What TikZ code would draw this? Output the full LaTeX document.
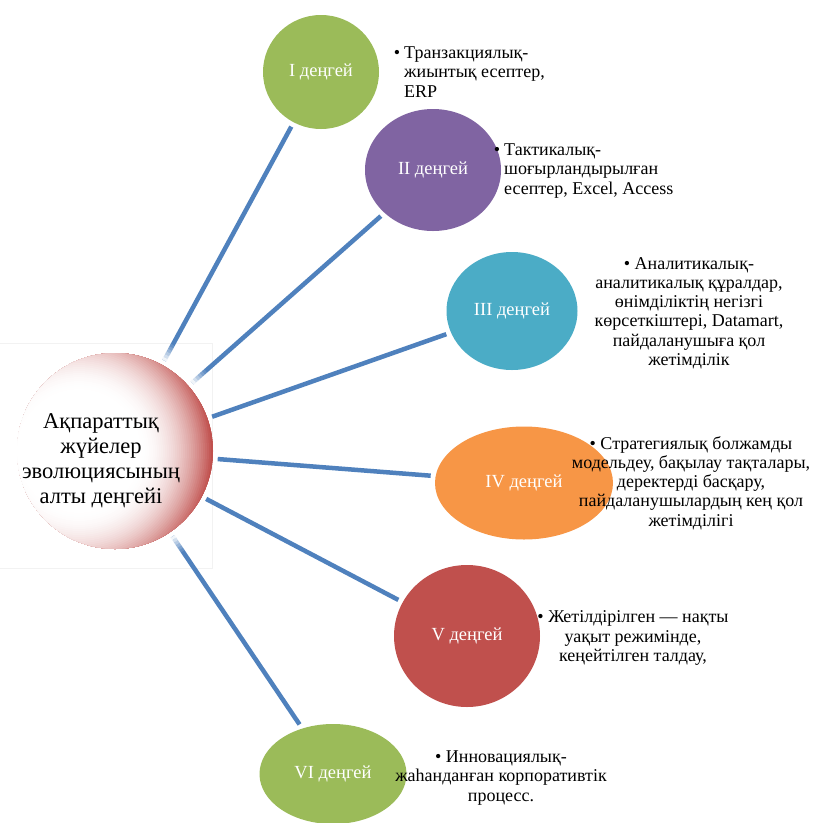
\documentclass[tikz,border=0pt]{standalone}
\usepackage{fontspec}
\setmainfont{Liberation Serif}
\usetikzlibrary{shapes.geometric,calc}
\definecolor{cgreen}{HTML}{9BBB59}
\definecolor{cpurple}{HTML}{8064A2}
\definecolor{caqua}{HTML}{4BACC6}
\definecolor{corange}{HTML}{F79646}
\definecolor{cred}{HTML}{C0504D}
\definecolor{cblue}{HTML}{4F81BD}
\begin{document}
\begin{tikzpicture}[x=1pt,y=-1pt,
  lev/.style={ellipse, draw=none, inner sep=0pt, outer sep=0pt, text=white, font=\fontsize{18.5}{21}\selectfont},
  conn/.style={draw=cblue, line width=4.5pt, shorten <=5pt, shorten >=5pt},
  desc/.style={text=black, font=\fontsize{18}{19.2}\selectfont, inner sep=0pt},
  ctrtext/.style={font=\fontsize{22.5}{25}\selectfont, align=center, inner sep=0pt},
  frame/.style={draw=black!5, line width=0.8pt}
]
\useasboundingbox (0,0) rectangle (815,823);
\fill[white] (0,0) rectangle (815,823);
\draw[frame] (0,343) -- (212,343) -- (212,568) -- (0,568);

\node[circle, minimum size=196pt, inner sep=0pt, outer sep=0pt] (c) at (115,451) {};
\begin{scope}
  \clip (c.center) circle (98pt);
  \coordinate (S) at ($(c.center)+(-36,0)$);
  \foreach \r [evaluate=\r as \p using {min(100,100*max(0,(\r-60)/74)^2)}] in {140,138,...,60}{
    \fill[cred!\p] (S) circle (\r pt);
  }
\end{scope}
\node[ctrtext] (ct) at (101,461) {Ақпараттық\\жүйелер\\эволюциясының\\алты деңгейі};

\node[lev, fill=cgreen, minimum width=116pt, minimum height=114pt] (l1) at (321,72) {I деңгей};
\node[lev, fill=cpurple, minimum width=136pt, minimum height=122pt] (l2) at (433,170) {II деңгей};
\node[lev, fill=caqua, minimum width=131pt, minimum height=118pt] (l3) at (512,311) {III деңгей};
\node[lev, fill=corange, minimum width=178pt, minimum height=113pt] (l4) at (524,483) {IV деңгей};
\node[lev, fill=cred, minimum width=146pt, minimum height=142pt] (l5) at (467,636) {V деңгей};
\node[lev, fill=cgreen, minimum width=147pt, minimum height=100pt] (l6) at (333,774) {VI деңгей};

\foreach \n in {l1,l2,l3,l4,l5,l6}{\draw[conn] (c) -- (\n);}
\foreach \n in {l1,l2,l6}{
  \foreach \t/\o [evaluate=\t as \d using 103+\t, evaluate=\t as \e using 106+\t] in {0/0.92,3/0.75,6/0.58,9/0.42,12/0.26,15/0.12}{
    \draw[white, line width=5.5pt, opacity=\o] ($(c.center)!\d pt!(\n.center)$) -- ($(c.center)!\e pt!(\n.center)$);
  }
}

\node[desc, anchor=west, align=left] (d1) at (404,72) {\llap{•\hspace{4pt}}Транзакциялық-\\жиынтық есептер,\\ERP};
\node[desc, anchor=west, align=left] (d2) at (504,171) {\llap{•\hspace{4pt}}Тактикалық-\\шоғырландырылған\\есептер, Excel, Access};
\node[desc, align=center] (d3) at (689,313) {• Аналитикалық-\\аналитикалық құралдар,\\өнімділіктің негізгі\\көрсеткіштері, Datamart,\\пайдаланушыға қол\\жетімділік};
\node[desc, align=center] (d4) at (691,483) {• Стратегиялық болжамды\\модельдеу, бақылау тақталары,\\деректерді басқару,\\пайдаланушылардың кең қол\\жетімділігі};
\node[desc, align=center] (d5) at (633,638) {• Жетілдірілген — нақты\\уақыт режимінде,\\кеңейтілген талдау,};
\node[desc, align=center] (d6) at (501,778) {• Инновациялық-\\жаһанданған корпоративтік\\процесс.};
\end{tikzpicture}
\end{document}
